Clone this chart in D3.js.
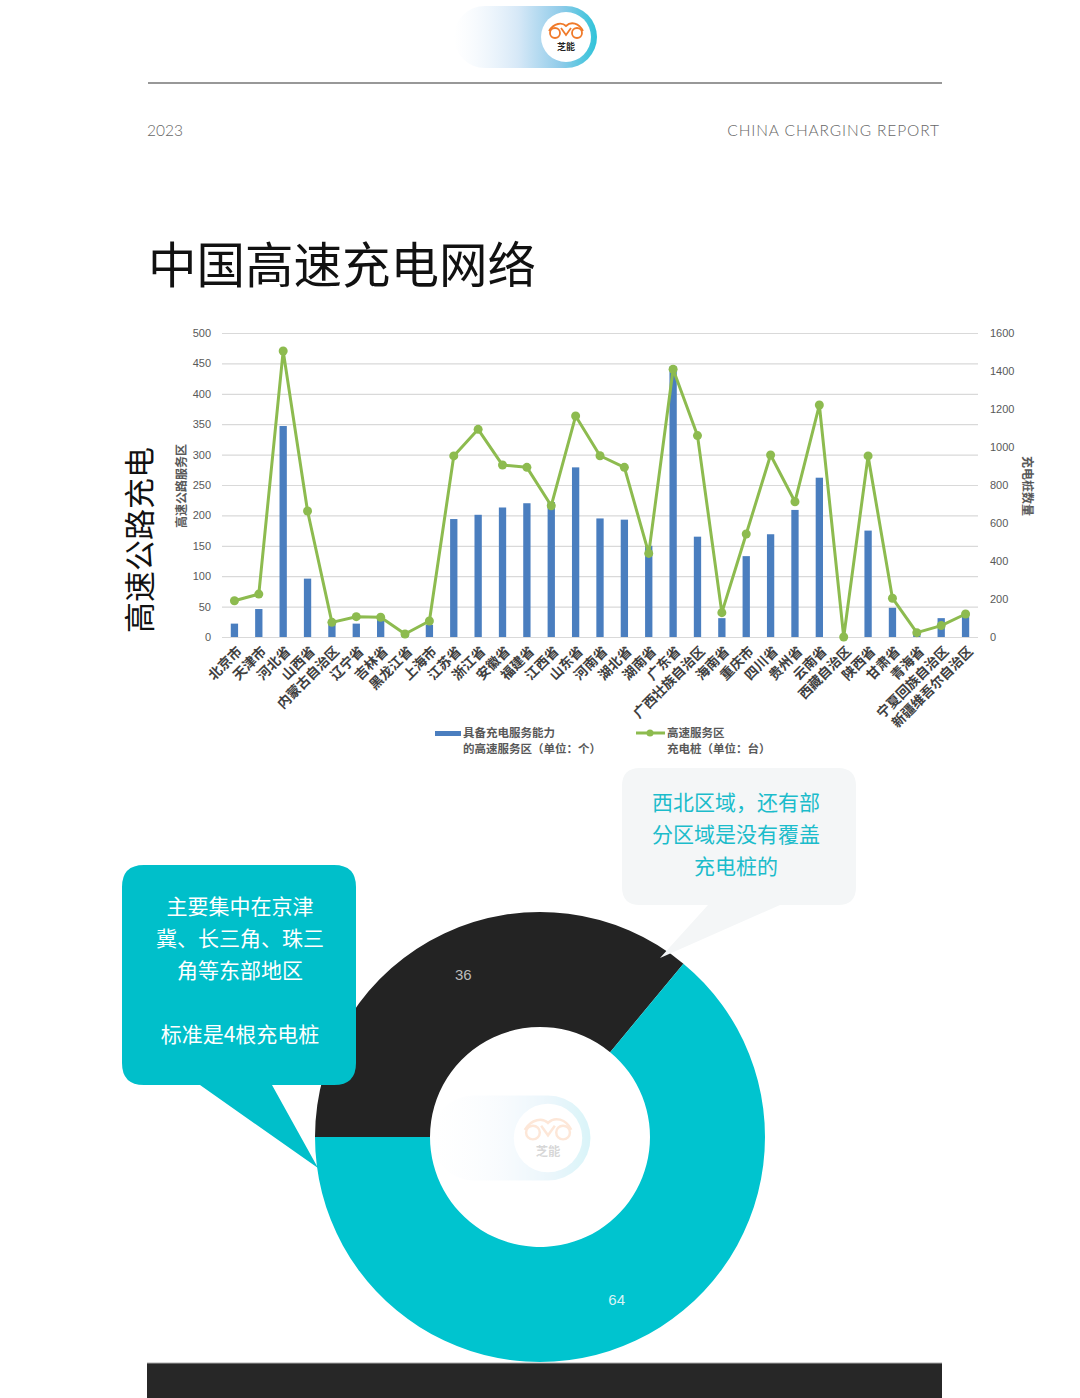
<!DOCTYPE html>
<html><head><meta charset="utf-8">
<script src="https://cdn.jsdelivr.net/npm/d3@7"></script>
<style>body{margin:0;background:#fff}svg{display:block}</style>
</head><body>
<script>
const categories = ["北京市","天津市","河北省","山西省","内蒙古自治区","辽宁省","吉林省","黑龙江省","上海市","江苏省","浙江省","安徽省","福建省","江西省","山东省","河南省","湖北省","湖南省","广东省","广西壮族自治区","海南省","重庆市","四川省","贵州省","云南省","西藏自治区","陕西省","甘肃省","青海省","宁夏回族自治区","新疆维吾尔自治区"];
const serviceAreas = [22,46,347,96,22,22,30,10,20,194,201,213,220,222,279,195,193,150,445,165,31,133,169,209,262,0,175,48,6,31,36];
const chargers = [191,226,1505,663,77,107,104,16,84,953,1093,905,893,691,1163,954,893,440,1409,1060,128,542,958,712,1221,0,953,204,23,60,121];
const leftTicks = [0,50,100,150,200,250,300,350,400,450,500];
const rightTicks = [0,200,400,600,800,1000,1200,1400,1600];
const legendBar = ["具备充电服务能力","的高速服务区（单位：个）"];
const legendLine = ["高速服务区","充电桩（单位：台）"];
const donutValues = [36,64];
const donutColors = ["#232323","#00c4cf"];
const noteRight = ["西北区域，还有部","分区域是没有覆盖","充电桩的"];
const noteLeft = ["主要集中在京津","冀、长三角、珠三","角等东部地区","","标准是4根充电桩"];

const W=1080,H=1398;
const svg=d3.select("body").append("svg").attr("width",W).attr("height",H);
const defs=svg.append("defs");
const g1=defs.append("linearGradient").attr("id","pill").attr("x1","0").attr("x2","1");
g1.append("stop").attr("offset","0").attr("stop-color","#eef5fc").attr("stop-opacity",0);
g1.append("stop").attr("offset","0.45").attr("stop-color","#d6e8f7");
g1.append("stop").attr("offset","0.75").attr("stop-color","#8fcbe9");
g1.append("stop").attr("offset","1").attr("stop-color","#2fc3d9");
defs.append("clipPath").attr("id","hole").append("circle").attr("cx",540).attr("cy",1137).attr("r",109);

function logo(parent,cx,cy,scale,op,left,clip){
  const gg=parent.append("g").attr("opacity",op).attr("transform",`translate(${cx},${cy}) scale(${scale})`);
  gg.append("rect").attr("x",-left).attr("y",-31).attr("width",left+31).attr("height",62).attr("rx",31).attr("fill","url(#pill)");
  gg.append("circle").attr("r",25).attr("fill","#fff");
  const car=gg.append("g").attr("fill","none").attr("stroke","#f07a2a").attr("stroke-width",1.8);
  car.append("circle").attr("cx",-11).attr("cy",-4).attr("r",5);
  car.append("circle").attr("cx",11).attr("cy",-4).attr("r",5);
  car.append("path").attr("d","M-17,-6 C-12,-14 -4,-15 0,-11 C5,-16 13,-14 17,-6 M-5,-9 L0,-2 L5,-9");
  gg.append("text").attr("y",13).attr("text-anchor","middle").attr("font-family","Noto Sans CJK SC").attr("font-weight",700).attr("font-size",9).attr("fill","#222").text("芝能");
}
logo(svg,566,37,1,1,112);

svg.append("line").attr("x1",148).attr("x2",942).attr("y1",83).attr("y2",83).attr("stroke","#333").attr("stroke-width",1.2);
svg.append("text").attr("x",147).attr("y",136).attr("font-family","Lato").attr("font-weight",300).attr("font-size",15.5).attr("fill","#666").text("2023");
svg.append("text").attr("x",940).attr("y",136).attr("text-anchor","end").attr("font-family","Lato").attr("font-weight",300).attr("font-size",15.5).attr("letter-spacing",0.9).attr("fill","#666").text("CHINA CHARGING  REPORT");
svg.append("text").attr("x",148).attr("y",283).attr("font-family","Noto Sans CJK SC").attr("font-size",48.5).attr("fill","#111").text("中国高速充电网络");
svg.append("text").attr("transform","translate(137,540) rotate(-90)").attr("text-anchor","middle").attr("dominant-baseline","central").attr("font-family","Noto Sans CJK SC").attr("font-size",31).attr("fill","#111").text("高速公路充电");

// chart
const x=d3.scaleBand().domain(categories).range([222,978]).paddingInner(0.7).paddingOuter(0.36);
const yL=d3.scaleLinear().domain([0,500]).range([637,333]);
const yR=d3.scaleLinear().domain([0,1600]).range([637,333]);
const chart=svg.append("g");
const grid=chart.append("g").attr("transform","translate(222,0)").call(d3.axisLeft(yL).tickValues(leftTicks).tickSize(-756).tickFormat(d3.format("d")));
grid.select(".domain").remove();
grid.selectAll(".tick line").attr("stroke","#d9d9d9").attr("stroke-width",1.2);
grid.selectAll(".tick text").attr("x",-11).attr("font-family","Liberation Sans").attr("font-size",11).attr("fill","#595959");
const ra=chart.append("g").attr("transform","translate(978,0)").call(d3.axisRight(yR).tickValues(rightTicks).tickSize(0).tickFormat(d3.format("d")));
ra.select(".domain").remove();
ra.selectAll(".tick text").attr("x",12).attr("font-family","Liberation Sans").attr("font-size",11).attr("fill","#595959");
svg.append("text").attr("transform","translate(180,486) rotate(-90)").attr("text-anchor","middle").attr("dominant-baseline","central").attr("font-family","Noto Sans CJK SC").attr("font-weight",700).attr("font-size",12).attr("fill","#595959").text("高速公路服务区");
svg.append("text").attr("transform","translate(1028,486) rotate(90)").attr("text-anchor","middle").attr("dominant-baseline","central").attr("font-family","Noto Sans CJK SC").attr("font-weight",700).attr("font-size",12).attr("fill","#595959").text("充电桩数量");

chart.selectAll("rect.bar").data(categories).join("rect").attr("class","bar")
  .attr("x",d=>x(d)).attr("width",x.bandwidth())
  .attr("y",(d,i)=>yL(serviceAreas[i])).attr("height",(d,i)=>637-yL(serviceAreas[i])).attr("fill","#4a7ebf");
const cx=d=>x(d)+x.bandwidth()/2;
chart.append("path").datum(categories).attr("fill","none").attr("stroke","#8dbb4f").attr("stroke-width",3).attr("stroke-linejoin","round")
  .attr("d",d3.line().x(d=>cx(d)).y((d,i)=>yR(chargers[i])));
chart.selectAll("circle.pt").data(categories).join("circle").attr("class","pt")
  .attr("cx",d=>cx(d)).attr("cy",(d,i)=>yR(chargers[i])).attr("r",4.5).attr("fill","#8dbb4f");
chart.selectAll("text.xl").data(categories).join("text").attr("class","xl")
  .attr("transform",d=>`translate(${cx(d)+4},${648}) rotate(-45)`).attr("text-anchor","end")
  .attr("dominant-baseline","central")
  .attr("font-family","Noto Sans CJK SC").attr("font-weight",700).attr("font-size",13.5).attr("fill","#404040").text(d=>d);

// legend
const lf=s=>s.attr("font-family","Noto Sans CJK SC").attr("font-size",11.5).attr("fill","#595959");
svg.append("rect").attr("x",435).attr("y",731).attr("width",26).attr("height",5).attr("fill","#4a7ebf");
legendBar.forEach((t,i)=>lf(svg.append("text").attr("x",463).attr("y",737+i*16)).attr("font-weight",700).text(t));
svg.append("line").attr("x1",636).attr("x2",665).attr("y1",733).attr("y2",733).attr("stroke","#8dbb4f").attr("stroke-width",3);
svg.append("circle").attr("cx",650).attr("cy",733).attr("r",3.5).attr("fill","#8dbb4f");
legendLine.forEach((t,i)=>lf(svg.append("text").attr("x",667).attr("y",737+i*16)).attr("font-weight",700).text(t));

// donut
const pie=d3.pie().sort(null).startAngle(-Math.PI/2).endAngle(Math.PI*1.5);
const arc=d3.arc().innerRadius(110).outerRadius(225);
const dg=svg.append("g").attr("transform","translate(540,1137)");
const arcs=pie(donutValues);
dg.selectAll("path").data(arcs).join("path").attr("d",arc).attr("fill",(d,i)=>donutColors[i]);
const lab=d3.arc().innerRadius(175).outerRadius(185);
dg.selectAll("text").data(arcs).join("text").attr("transform",d=>`translate(${lab.centroid(d)})`)
  .attr("text-anchor","middle").attr("dominant-baseline","central").attr("font-family","Liberation Sans").attr("font-size",15)
  .attr("fill",(d,i)=>i?"#d8f4f6":"#bbbbbb").text(d=>d.data);
const holeG=svg.append("g").attr("clip-path","url(#hole)");
logo(holeG,548,1138,1.37,0.18,85);

// bubbles
svg.append("path").attr("d","M640,768 H838 Q856,768 856,786 V887 Q856,905 838,905 H780 L660,958 L708,905 H640 Q622,905 622,887 V786 Q622,768 640,768 Z").attr("fill","#f4f6f7");
noteRight.forEach((t,i)=>svg.append("text").attr("x",736).attr("y",801+i*32).attr("text-anchor","middle").attr("dominant-baseline","central")
  .attr("font-family","Noto Sans CJK SC").attr("font-size",21).attr("fill","#1bbccb").text(t));
svg.append("path").attr("d","M144,865 H334 Q356,865 356,887 V1063 Q356,1085 334,1085 H272 L318,1168 L200,1085 H144 Q122,1085 122,1063 V887 Q122,865 144,865 Z").attr("fill","#00bfca");
noteLeft.forEach((t,i)=>svg.append("text").attr("x",240).attr("y",905+i*32).attr("text-anchor","middle").attr("dominant-baseline","central")
  .attr("font-family","Noto Sans CJK SC").attr("font-size",21).attr("fill","#fff").text(t));

svg.append("rect").attr("x",147).attr("y",1363).attr("width",795).attr("height",36).attr("fill","#272727");
svg.append("line").attr("x1",147).attr("x2",942).attr("y1",1363).attr("y2",1363).attr("stroke","#aaa");
</script>
</body></html>
